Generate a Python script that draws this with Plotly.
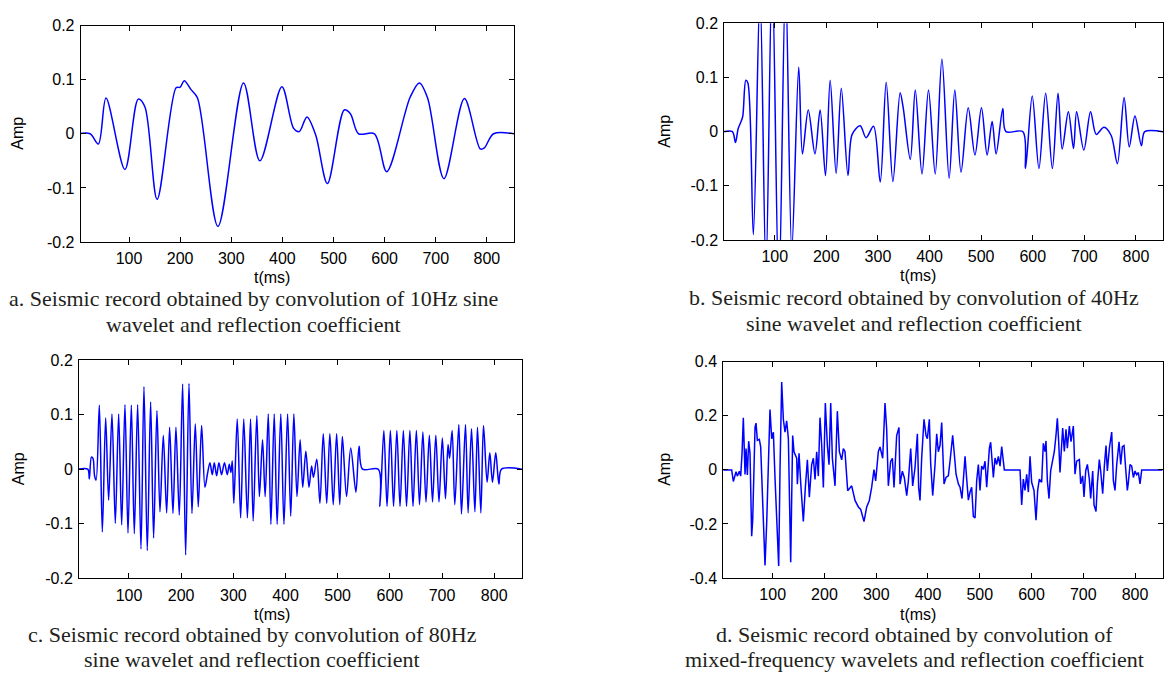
import plotly.graph_objects as go

# ---------------- data ----------------
# a. 10 Hz sine wavelet
t_a = [1, 24, 40, 55, 92, 118, 131, 155, 192, 200, 208, 221, 234, 274, 324, 356, 399,
       422, 433, 448, 465, 488, 521, 533, 549, 580, 604, 650, 668, 684, 716, 756, 787,
       795, 813, 853]
amp_a = [0, 0, -0.019, 0.066, -0.066, 0.064, 0.05, -0.121, 0.085, 0.086, 0.098, 0.082,
         0.066, -0.171, 0.094, -0.05, 0.087, 0.010, 0.004, 0.031, -0.002, -0.092, 0.044,
         0.037, 0, 0, -0.07, 0.068, 0.094, 0.066, -0.083, 0.065, -0.028, -0.026, 0, 0]

# b. 40 Hz sine wavelet
t_b = [1, 18, 24, 29, 34, 38, 44, 48, 58.6, 71.5, 83, 95, 108, 121, 133, 146.5, 153.7,
       165, 178, 188, 198.4, 207.4, 219, 229, 242, 250, 265.6, 277, 291.5, 304.5, 316,
       329, 343, 349, 362.7, 372.4, 385.4, 398, 411, 424, 438, 449, 461, 475, 488, 500.6,
       511.6, 521.3, 529, 542, 548, 581, 586, 599, 612, 625, 638, 649, 657, 669, 679, 685,
       699, 712, 723, 738, 752, 764, 777, 787, 798, 810.6, 817, 853]
amp_b = [0, 0, -0.02, 0.005, 0.017, 0.028, 0.095, 0.09, -0.19, 0.26, -0.26, 0.3, -0.3,
         0.28, -0.22, 0.119, -0.041, 0.040, -0.041, 0.040, -0.081, 0.095, -0.077, 0.080,
         -0.081, -0.005, 0.011, -0.011, 0.010, -0.093, 0.091, -0.092, 0.072, 0.044,
         -0.051, 0.077, -0.078, 0.077, -0.078, 0.134, -0.086, 0.077, -0.075, 0.044,
         -0.043, 0.044, -0.043, 0.019, -0.041, 0.043, 0, 0, -0.068, 0.066, -0.068, 0.071,
         -0.068, 0.071, -0.032, 0.037, -0.031, 0.037, -0.034, 0.037, -0.005, 0.008,
         -0.007, -0.059, 0.063, -0.028, 0.029, -0.026, 0, 0]

# c. 80 Hz sine wavelet
t_c = [1, 21, 24, 28, 31, 34, 37, 43.2, 48.9, 55.3, 61.0, 67.4, 73.8, 80.2, 86.0, 92.3,
       98.1, 104.5, 110.2, 116.6, 123.0, 128.7, 135.1, 141.5, 147.2, 153.6, 159.4, 165.8,
       172.2, 177.9, 184.3, 190.0, 196.4, 202.8, 208.6, 215.0, 220.7, 227.1, 232.8, 239.2,
       245.6, 250.7, 255.2, 259.6, 263.5, 268, 272.4, 277.5, 283, 288.4, 292.2, 295.4, 298,
       301, 307.5, 314, 320, 327, 333, 338, 345, 350, 356, 361, 367, 372, 378.4, 384, 391,
       397, 404, 410, 416, 422, 428, 433, 439, 445, 450, 453.5, 460, 466, 472.4, 479, 485,
       491.5, 498, 504, 509, 517, 525, 535, 541, 547.6, 578, 581, 588.5, 594.6, 601, 607.1,
       613.4, 619.5, 625.9, 632, 638.4, 644.4, 650.8, 656.9, 663.3, 669.3, 675.7, 681.8,
       688.1, 694.2, 700.6, 706.6, 711.5, 714.5, 719.4, 724.5, 732.2, 737.3, 745, 750,
       756.5, 763, 768, 774.4, 779.5, 786.4, 791.6, 796.7, 803, 809, 814, 853]
amp_c = [0, 0, -0.018, 0.022, 0.02, -0.012, -0.02, 0.117, -0.115, 0.094, -0.057, 0.101,
         -0.099, 0.101, -0.102, 0.118, -0.117, 0.117, -0.118, 0.118, -0.146, 0.151,
         -0.149, 0.123, -0.126, 0.107, -0.078, 0.062, -0.08, 0.077, -0.081, 0.077, -0.084,
         0.156, -0.157, 0.157, -0.081, 0.083, -0.069, 0.080, -0.033, -0.007, 0.012, -0.01,
         0.012, -0.012, 0.012, -0.01, 0.012, -0.01, 0.009, -0.006, 0.015, -0.0625, 0.092,
         -0.089, 0.092, -0.089, 0.092, -0.095, 0.098, -0.05, 0.054, -0.05, 0.101, -0.101,
         0.101, -0.101, 0.101, -0.101, 0.101, -0.086, 0.101, -0.05, 0.054, -0.033, 0.033,
         -0.033, 0.006, -0.015, 0.018, -0.0625, 0.065, -0.0625, 0.065, -0.065, 0.065,
         -0.065, 0.06, -0.05, 0.039, -0.042, 0.042, 0, 0, -0.068, 0.071, -0.068, 0.071,
         -0.068, 0.071, -0.068, 0.071, -0.068, 0.071, -0.068, 0.071, -0.065, 0.068, -0.06,
         0.062, -0.06, 0.062, -0.06, 0.057, -0.054, 0.045, 0.02, 0.071, -0.065, 0.082,
         -0.082, 0.082, -0.08, 0.074, -0.078, 0.077, -0.08, 0.08, -0.024, 0.03, -0.024,
         0.03, -0.027, 0, 0]

# d. mixed-frequency wavelets
t_d = [1, 20.8, 24.0, 29.2, 31.7, 35.6, 38.2, 40.8, 43.3, 46.6, 48.5, 51.1, 53.6, 56.2,
       59.4, 61.4, 65.9, 67.8, 70.4, 74.2, 76.8, 80.7, 85.2, 88.4, 92.3, 94.8, 98.1, 101.3,
       104.5, 107.7, 111.6, 114.2, 117.4, 120.6, 123.8, 127.0, 130.3, 134.8, 138.6, 141.2,
       146.4, 147.7, 150.9, 154.1, 159.2, 163.1, 167.0, 170.8, 175.3, 178.6, 181.8, 185.0,
       188.2, 191.4, 194.7, 197.9, 201.7, 205.6, 208.8, 212.1, 215.3, 220.4, 224.9, 228.8,
       233.3, 236.5, 239.7, 244.9, 252.6, 259.1, 265.5, 270.0, 276.4, 281.6, 286.7, 291.2,
       295.7, 298.9, 304.1, 307.3, 312.5, 317.0, 320.2, 323.4, 327.9, 331.2, 334.4, 339.5,
       344.0, 346.0, 350.5, 354.3, 358.9, 362.1, 366.6, 370.4, 374.9, 379.5, 382.0, 384.6,
       387.8, 392.3, 396.2, 398.8, 402.6, 405.2, 409.1, 413.6, 416.8, 420.0, 423.3, 426.5,
       431.0, 434.8, 439.3, 442.6, 447.7, 451.0, 454.2, 458.7, 461.9, 465.7, 468.3, 471.6,
       474.8, 478.0, 481.2, 484.4, 487.6, 490.9, 494.1, 497.3, 500.5, 503.7, 507.0, 510.2,
       513.4, 518.6, 521.1, 523.7, 526.3, 529.5, 532.7, 536.0, 539.2, 542.4, 545.6, 547.5,
       577.8, 581.0, 584.2, 587.4, 590.7, 593.9, 597.1, 600.3, 604.8, 608.7, 611.9, 615.1,
       619.6, 622.8, 626.0, 628.0, 630.6, 633.8, 637.0, 640.9, 644.1, 647.3, 649.9, 652.5,
       655.0, 660.2, 663.4, 666.6, 669.2, 673.1, 676.3, 680.8, 684.0, 687.2, 692.4, 695.0,
       698.8, 701.4, 704.7, 707.9, 711.7, 714.3, 718.2, 720.8, 724.6, 727.2, 731.0, 733.6,
       737.5, 740.7, 743.9, 746.5, 750.4, 754.9, 758.1, 761.3, 764.6, 769.1, 772.3, 775.5,
       778.7, 781.3, 785.1, 787.1, 790.3, 793.5, 796.8, 800.0, 803.2, 806.4, 809.6, 812.9,
       853]
amp_d = [0, 0, -0.043, -0.007, -0.023, -0.005, -0.023, 0.061, 0.193, -0.017, 0.079,
         -0.019, 0.106, 0.061, -0.245, -0.185, 0.157, 0.173, 0.109, 0.113, 0.085, -0.125,
         -0.353, -0.197, 0.103, 0.223, 0.115, 0.139, -0.029, -0.173, -0.355, 0.007, 0.325,
         0.187, 0.139, 0.181, 0.115, -0.341, 0.127, 0.067, 0.043, -0.053, 0.061, -0.047,
         -0.191, -0.065, 0.037, -0.101, 0.019, 0.043, -0.035, 0.067, -0.023, 0.193, 0.091,
         -0.065, 0.247, 0.091, 0.019, 0.247, 0.043, -0.059, 0.217, 0.067, 0.037, 0.079,
         0.067, -0.077, -0.059, -0.113, -0.137, -0.146, -0.191, -0.137, -0.113, -0.065,
         0.001, -0.041, 0.067, 0.085, 0.043, 0.247, 0.151, -0.059, 0.031, 0.043, -0.065,
         0.127, 0.157, -0.053, -0.005, -0.029, -0.095, -0.041, 0.079, -0.059, 0.007, 0.133,
         -0.065, -0.113, 0.043, 0.187, 0.127, 0.115, 0.187, 0.025, -0.095, 0.019, 0.133,
         0.067, 0.091, 0.175, -0.052, -0.028, -0.022, 0.032, 0.128, 0.056, -0.016, -0.052,
         -0.064, -0.106, -0.028, 0.05, -0.034, -0.112, -0.082, -0.064, -0.172, -0.178,
         -0.04, 0.02, -0.076, 0.014, 0.002, 0.032, -0.064, 0.08, 0.102, 0.032, -0.028,
         0.044, 0.02, 0.05, 0.014, 0.086, 0.044, 0, 0, -0.13, -0.034, -0.076, -0.016,
         -0.082, 0.05, -0.046, -0.076, -0.186, -0.076, -0.034, -0.046, 0.098, 0.068, 0.107,
         -0.04, -0.106, -0.004, 0.032, 0.068, 0.128, 0.191, 0.104, -0.01, 0.155, 0.068,
         0.15, 0.08, 0.162, 0.104, 0.162, -0.016, 0.032, 0.038, -0.052, -0.022, -0.1,
         -0.004, 0.02, -0.034, -0.106, -0.004, -0.13, -0.154, -0.052, 0.038, -0.004, -0.088,
         0.014, 0.09, -0.004, 0.08, 0.14, -0.04, -0.076, 0.02, 0.104, 0.02, 0.086, 0.09,
         0.02, -0.076, -0.046, 0.02, 0.014, -0.028, -0.004, -0.018, -0.01, -0.052, 0, 0]

x_ticks = [100, 200, 300, 400, 500, 600, 700, 800]
x_tick_text = ["100", "200", "300", "400", "500", "600", "700", "800"]
y_ticks_small = [-0.2, -0.1, 0, 0.1, 0.2]
y_text_small = ["-0.2", "-0.1", "0", "0.1", "0.2"]
y_ticks_big = [-0.4, -0.2, 0, 0.2, 0.4]
y_text_big = ["-0.4", "-0.2", "0", "0.2", "0.4"]

captions = [
    ["a. Seismic record obtained by convolution of 10Hz sine",
     "wavelet and reflection coefficient"],
    ["b. Seismic record obtained by convolution of 40Hz",
     "sine wavelet and reflection coefficient"],
    ["c. Seismic record obtained by convolution of 80Hz",
     "sine wavelet and reflection coefficient"],
    ["d. Seismic record obtained by convolution of",
     "mixed-frequency wavelets and reflection coefficient"],
]

# ---------------- layout ----------------
W, H = 1169, 681
SANS = "Liberation Sans, Arial, sans-serif"
SERIF = "Liberation Serif, Times New Roman, serif"

panels = [
    dict(t=t_a, a=amp_a, px=(80.7, 514), py=(18, 240), xr=[5.5, 853], yr=[-0.2, 0.2],
         yt=(y_ticks_small, y_text_small), shape="spline", amp_x=18, tms=(272, 276),
         cap_x=253, cap_y=(298, 325)),
    dict(t=t_b, a=amp_b, px=(724.3, 1163), py=(15.7, 238), xr=[2.3, 852.4], yr=[-0.2, 0.2],
         yt=(y_ticks_small, y_text_small), shape="spline", amp_x=665, tms=(918, 274),
         cap_x=914, cap_y=(297, 324)),
    dict(t=t_c, a=amp_c, px=(79, 522), py=(361, 585), xr=[4.2, 853.3], yr=[-0.2, 0.2],
         yt=(y_ticks_small, y_text_small), shape="spline", amp_x=18, tms=(272, 622),
         cap_x=252, cap_y=(643, 668)),
    dict(t=t_d, a=amp_d, px=(723.3, 1163), py=(362.7, 584.7), xr=[4.6, 854], yr=[-0.4, 0.4],
         yt=(y_ticks_big, y_text_big), shape="linear", amp_x=665, tms=(918, 622),
         cap_x=914, cap_y=(643, 668)),
]

fig = go.Figure()
annotations = []
for i, p in enumerate(panels):
    n = "" if i == 0 else str(i + 1)
    line = dict(color="#0000FF", width=1.5, shape=p["shape"])
    if p["shape"] == "spline":
        line["smoothing"] = 0.9
    fig.add_trace(go.Scatter(x=p["t"], y=p["a"], mode="lines", line=line,
                             xaxis="x" + n, yaxis="y" + n, showlegend=False,
                             hoverinfo="skip"))
    common = dict(showline=True, linecolor="black", linewidth=1, mirror="ticks",
                  ticks="inside", ticklen=5, tickcolor="black", tickwidth=1,
                  showgrid=False, zeroline=False,
                  tickfont=dict(family=SANS, size=16, color="black"))
    fig.update_layout(**{
        "xaxis" + n: dict(domain=[p["px"][0] / W, p["px"][1] / W], range=p["xr"],
                          anchor="y" + n, tickvals=x_ticks, ticktext=x_tick_text,
                          ticklabelstandoff=2, **common),
        "yaxis" + n: dict(domain=[1 - p["py"][1] / H, 1 - p["py"][0] / H], range=p["yr"],
                          anchor="x" + n, tickvals=p["yt"][0], ticktext=p["yt"][1],
                          ticklabelstandoff=2, **common),
    })
    cy = (p["py"][0] + p["py"][1]) / 2
    annotations.append(dict(text="Amp", x=p["amp_x"] / W, y=1 - cy / H, xref="paper",
                            yref="paper", showarrow=False, textangle=-90,
                            xanchor="center", yanchor="middle",
                            font=dict(family=SANS, size=16, color="black")))
    annotations.append(dict(text="t(ms)", x=p["tms"][0] / W, y=1 - p["tms"][1] / H,
                            xref="paper", yref="paper", showarrow=False,
                            xanchor="center", yanchor="middle",
                            font=dict(family=SANS, size=16, color="black")))
    for k in range(2):
        annotations.append(dict(text=captions[i][k], x=p["cap_x"] / W,
                                y=1 - p["cap_y"][k] / H, xref="paper", yref="paper",
                                showarrow=False, xanchor="center", yanchor="middle",
                                font=dict(family=SERIF, size=22, color="#231f20")))

fig.update_layout(width=W, height=H, margin=dict(l=0, r=0, t=0, b=0),
                  paper_bgcolor="white", plot_bgcolor="white",
                  annotations=annotations)

fig.write_html("out.html",
               config={"displayModeBar": False, "staticPlot": True},
               post_script="document.body.style.margin='0px';"
                           "document.body.style.padding='0px';"
                           "document.documentElement.style.overflow='hidden';")
